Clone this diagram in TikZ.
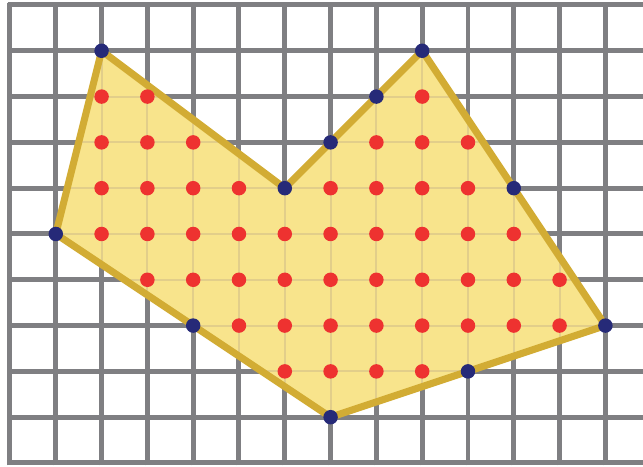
\documentclass[tikz,border=0pt]{standalone}
\begin{document}
\begin{tikzpicture}[x=1cm,y=1cm,
  gridline/.style={draw=gridgray,line width=3.1pt},
  innerline/.style={draw=innertan,line width=1.2pt},
  border/.style={draw=borderyellow,line width=4.4pt,line join=round,fill=fillyellow},
  bdot/.style={circle,fill=dotblue,inner sep=0pt,minimum size=9pt},
  idot/.style={circle,fill=dotred,inner sep=0pt,minimum size=9pt}]
\definecolor{gridgray}{RGB}{127,127,130}
\definecolor{innertan}{RGB}{226,206,138}
\definecolor{borderyellow}{RGB}{210,172,52}
\definecolor{fillyellow}{RGB}{248,228,140}
\definecolor{dotblue}{RGB}{38,42,120}
\definecolor{dotred}{RGB}{238,50,48}
\useasboundingbox (-0.218,-0.066) rectangle (13.821,10.109);
% grid
\foreach \j in {0,...,10} \draw[gridline] (-0.05,\j) -- (13.9,\j);
\foreach \i in {0,...,13} \draw[gridline] (\i,-0.05) -- (\i,10.05);
% polygon vertices
\coordinate (v1) at (2,9);
\coordinate (v2) at (6,6);
\coordinate (v3) at (9,9);
\coordinate (v4) at (13,3);
\coordinate (v5) at (7,1);
\coordinate (v6) at (1,5);
\fill[fillyellow] (v1) -- (v2) -- (v3) -- (v4) -- (v5) -- (v6) -- cycle;
\begin{scope}
\clip (v1) -- (v2) -- (v3) -- (v4) -- (v5) -- (v6) -- cycle;
\foreach \j in {0,...,10} \draw[innerline] (0,\j) -- (14,\j);
\foreach \i in {0,...,13} \draw[innerline] (\i,0) -- (\i,10);
\end{scope}
\draw[border,fill=none] (v1) -- (v2) -- (v3) -- (v4) -- (v5) -- (v6) -- cycle;
% interior points
\foreach \x/\y in {2/8,3/8,9/8,
  2/7,3/7,4/7,8/7,9/7,10/7,
  2/6,3/6,4/6,5/6,7/6,8/6,9/6,10/6,
  2/5,3/5,4/5,5/5,6/5,7/5,8/5,9/5,10/5,11/5,
  3/4,4/4,5/4,6/4,7/4,8/4,9/4,10/4,11/4,12/4,
  5/3,6/3,7/3,8/3,9/3,10/3,11/3,12/3,
  6/2,7/2,8/2,9/2}
  \node[idot] (i-\x-\y) at (\x,\y) {};
% boundary points
\foreach \x/\y in {2/9,6/6,7/7,8/8,9/9,11/6,13/3,10/2,7/1,4/3,1/5}
  \node[bdot] (b-\x-\y) at (\x,\y) {};
\end{tikzpicture}
\end{document}
